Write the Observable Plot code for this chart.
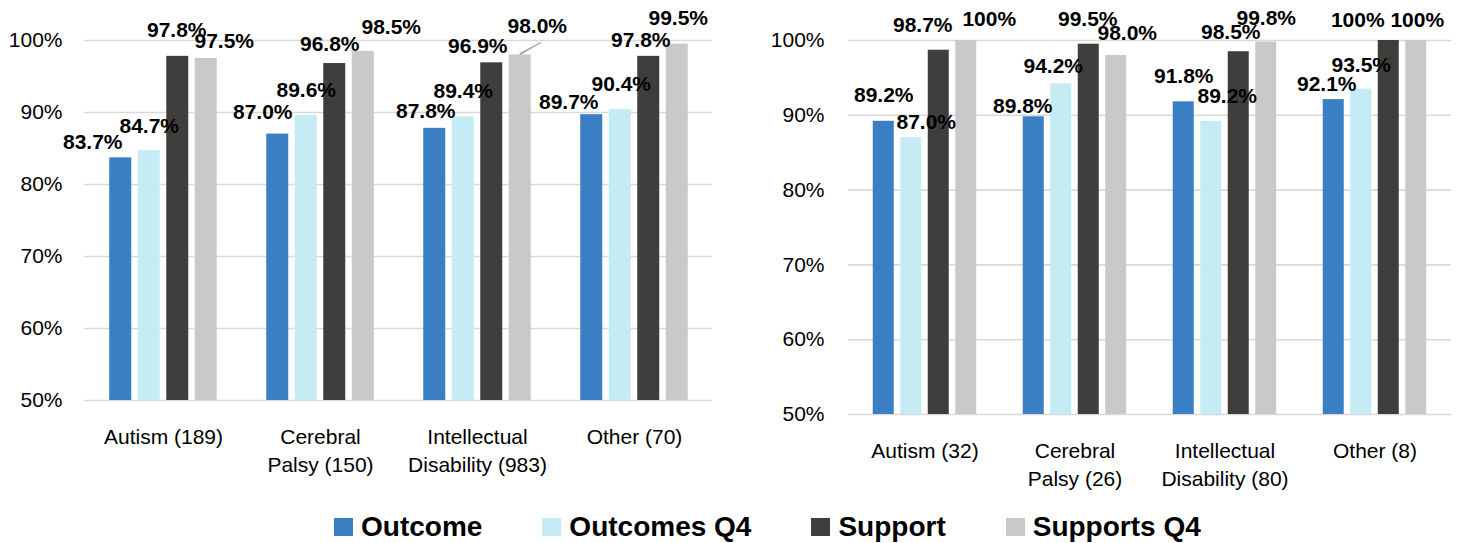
<!DOCTYPE html>
<html>
<head>
<meta charset="utf-8">
<script src="https://cdn.jsdelivr.net/npm/d3@7"></script>
<script src="https://cdn.jsdelivr.net/npm/@observablehq/plot@0.6"></script>
<style>
  html, body { margin: 0; padding: 0; background: #fff; }
  #page { position: relative; width: 1458px; height: 543px; overflow: hidden; font-family: "Liberation Sans", Arial, sans-serif; }
  .panel { position: absolute; top: 0; }
  #legend { position: absolute; left: 334px; top: 509px; height: 36px; display: flex; align-items: center; gap: 60px; }
  .item { display: flex; align-items: center; font-weight: bold; font-size: 28px; color: #000; }
  .swatch { width: 19px; height: 18px; margin-right: 8px; }
</style>
</head>
<body>
<div id="page">
  <div id="left" class="panel" style="left:0px"></div>
  <div id="right" class="panel" style="left:730px"></div>
  <div id="legend"></div>
</div>
<script>
// Series shared by both panels
const seriesNames = ["Outcome", "Outcomes Q4", "Support", "Supports Q4"];
const seriesColors = ["#3A7EC3", "#C5EBF5", "#403E3C", "#C9C9C9"];
const yTicks = [50, 60, 70, 80, 90, 100];

// Left panel
const leftCategories = ["Autism (189)", "Cerebral\nPalsy (150)", "Intellectual\nDisability (983)", "Other (70)"];
const leftOutcome    = [83.7, 87.0, 87.8, 89.7];
const leftOutcomesQ4 = [84.7, 89.6, 89.4, 90.4];
const leftSupport    = [97.8, 96.8, 96.9, 97.8];
const leftSupportsQ4 = [97.5, 98.5, 98.0, 99.5];

// Right panel
const rightCategories = ["Autism (32)", "Cerebral\nPalsy (26)", "Intellectual\nDisability (80)", "Other (8)"];
const rightOutcome    = [89.2, 89.8, 91.8, 92.1];
const rightOutcomesQ4 = [87.0, 94.2, 89.2, 93.5];
const rightSupport    = [98.7, 99.5, 98.5, 100];
const rightSupportsQ4 = [100, 98.0, 99.8, 100];

// Label nudges (pixels) per [category][series], so crowded value labels stay readable
const leftNudgeX = [[-28, 0, -1, 18], [-15, 0, -5, 28], [-9, 0, -14, 17], [-23, 1, -8, 1]];
const leftNudgeY = [[-16, -24, -26, -17], [-22, -25, -19, -24], [-17, -26, -17, -29], [-12.5, -25, -16, -26]];
const rightNudgeX = [[0, 15, -16, 23], [-11, -8, -1, 11], [0, 16, -8, 0], [-7, 0, -31, 1]];
const rightNudgeY = [[-26, -15.5, -25, -21], [-11, -18, -25, -22.5], [-25.5, -25, -19, -24], [-15, -24, -20.5, -20.5]];

const fmt = v => v === 100 ? "100%" : v.toFixed(1) + "%";
const FONT = "Liberation Sans, Arial, sans-serif";

function panel(cfg) {
  const {categories, values, nudgeX, nudgeY, leader, width, height, margin, barStep, barWidth, yPad, xPad} = cfg;
  const plotW = width - margin.left - margin.right;
  const groupStep = plotW / categories.length;
  const pi = 1 - barWidth / groupStep;
  const grid = [Plot.gridY(yTicks, {stroke: "#D9D9D9", strokeOpacity: 1, strokeWidth: 1.6})];
  const bars = [], labels = [], leaders = [];
  values.forEach((vals, s) => {
    const rows = categories.map((c, i) => ({category: c, value: vals[i]}));
    const off = (s - 1.5) * barStep;
    bars.push(Plot.barY(rows, {
      x: "category", y1: () => yTicks[0], y2: "value",
      fill: seriesColors[s], dx: off
    }));
    rows.forEach((r, i) => {
      labels.push(Plot.text([r], {
        x: "category", y: "value", text: d => fmt(d.value),
        dx: off + nudgeX[i][s], dy: nudgeY[i][s],
        fontSize: 21, fontWeight: "bold", fill: "#000", fontFamily: FONT
      }));
    });
    if (leader) {
      leader.filter(l => l.series === s).forEach(l => {
        leaders.push(Plot.vector([rows[l.category]], {
          x: "category", y: "value", dx: off, dy: -1,
          length: 23, rotate: 61, anchor: "start", shape: "spike", r: 0.4,
          stroke: "#A6A6A6", fill: "#A6A6A6", strokeWidth: 1.2
        }));
      });
    }
  });
  const axes = [
    Plot.axisX({
      tickSize: 0, tickPadding: xPad, fontSize: 21, lineHeight: 1.333,
      fill: "#000", label: null, fontFamily: FONT
    }),
    Plot.axisY(yTicks, {
      tickSize: 0, tickPadding: yPad, fontSize: 21, tickFormat: d => d + "%",
      fill: "#000", label: null, fontFamily: FONT
    })
  ];
  return Plot.plot({
    width, height,
    marginLeft: margin.left, marginRight: margin.right,
    marginTop: margin.top, marginBottom: margin.bottom,
    style: {fontFamily: FONT, fontSize: "21px", color: "#000", background: "transparent", overflow: "visible"},
    x: {domain: categories, paddingInner: pi, paddingOuter: pi / 2},
    y: {domain: [yTicks[0], yTicks[yTicks.length - 1]]},
    marks: [...grid, ...bars, ...leaders, ...axes, ...labels]
  });
}

document.getElementById("left").append(panel({
  categories: leftCategories,
  values: [leftOutcome, leftOutcomesQ4, leftSupport, leftSupportsQ4],
  nudgeX: leftNudgeX, nudgeY: leftNudgeY,
  leader: [{category: 2, series: 3}],
  width: 730, height: 480,
  margin: {left: 84, right: 18, top: 40, bottom: 80},
  barStep: 28.5, barWidth: 22, yPad: 22, xPad: 23.5
}));

document.getElementById("right").append(panel({
  categories: rightCategories,
  values: [rightOutcome, rightOutcomesQ4, rightSupport, rightSupportsQ4],
  nudgeX: rightNudgeX, nudgeY: rightNudgeY,
  leader: null,
  width: 728, height: 500,
  margin: {left: 118, right: 7, top: 40, bottom: 86},
  barStep: 27.5, barWidth: 21, yPad: 24, xPad: 24
}));

// Legend
const legend = document.getElementById("legend");
seriesNames.forEach((name, i) => {
  const item = document.createElement("div");
  item.className = "item";
  const sw = document.createElement("span");
  sw.className = "swatch";
  sw.style.background = seriesColors[i];
  const label = document.createElement("span");
  label.textContent = name;
  item.append(sw, label);
  legend.append(item);
});
</script>
</body>
</html>
